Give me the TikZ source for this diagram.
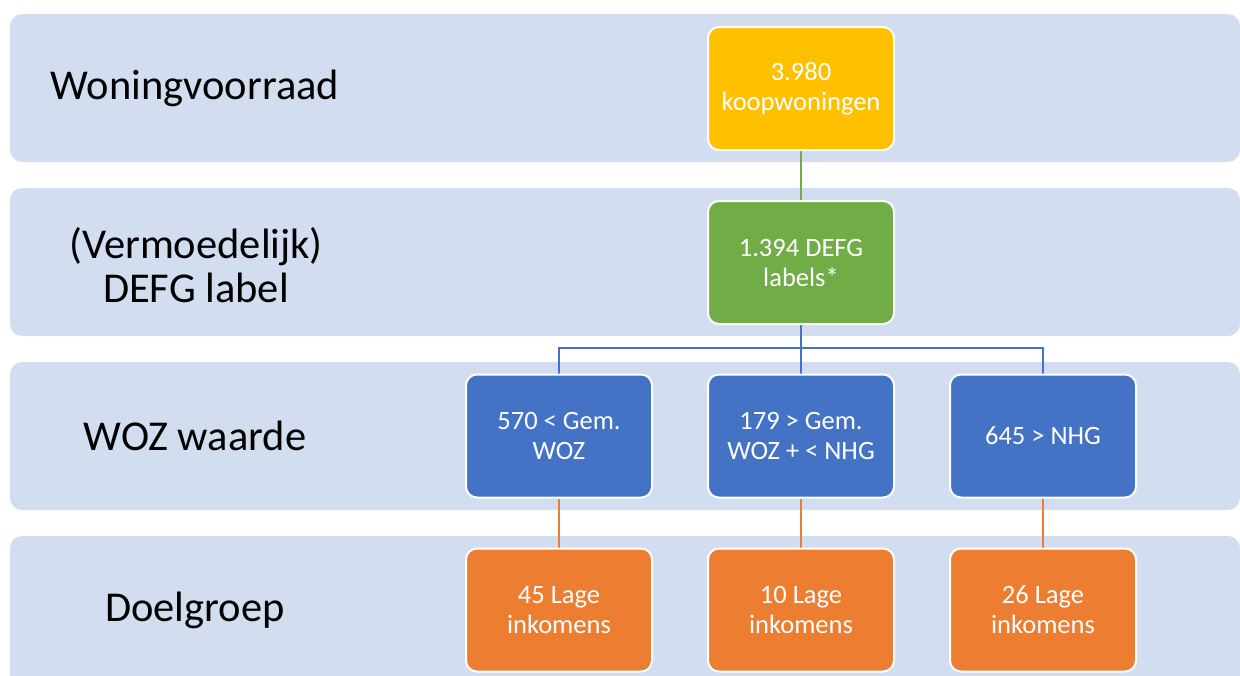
\documentclass[tikz,border=0pt]{standalone}
\usepackage{fontspec}
\setmainfont{Carlito}
\usetikzlibrary{backgrounds}
\definecolor{bandc}{HTML}{D2DEEF}
\definecolor{yelc}{HTML}{FFC000}
\definecolor{grnc}{HTML}{70AD47}
\definecolor{bluc}{HTML}{4472C4}
\definecolor{orac}{HTML}{ED7D31}
\begin{document}
\begin{tikzpicture}[x=1pt,y=-1pt,
  band/.style={fill=bandc, rounded corners=12pt},
  box/.style={draw=white, line width=2pt, rounded corners=11pt, minimum width=186pt, minimum height=123pt, text=white, align=center, font=\fontsize{26.5}{30}\selectfont, inner sep=0pt},
  lbl/.style={align=center, font=\fontsize{42.5}{44}\selectfont, text=black},
  conn/.style={line width=2.6pt}]
\useasboundingbox (0,0) rectangle (1240,675);
\clip (0,0) rectangle (1240,675);
% labels
\node[lbl] (l1) at (195,88) {Woningvoorraad};
\node[lbl] (l2) at (196,265) {(Vermoedelijk)\\DEFG label};
\node[lbl] (l3) at (195,436) {WOZ waarde};
\node[lbl] (l4) at (195,610) {Doelgroep};
% boxes
\node[box, fill=yelc] (top) at (801,88.5) {3.980\\koopwoningen};
\node[box, fill=grnc] (g) at (801,262.5) {1.394 DEFG\\labels*};
\node[box, fill=bluc] (b1) at (559,436) {570 < Gem.\\WOZ};
\node[box, fill=bluc] (b2) at (801,436) {179 > Gem.\\WOZ + < NHG};
\node[box, fill=bluc] (b3) at (1043,436) {645 > NHG};
\node[box, fill=orac] (o1) at (559,610) {45 Lage\\inkomens};
\node[box, fill=orac] (o2) at (801,610) {10 Lage\\inkomens};
\node[box, fill=orac] (o3) at (1043,610) {26 Lage\\inkomens};
\coordinate (j) at (801,348);
\begin{pgfonlayer}{background}
\fill[band] (10,14) rectangle (1240,162);
\fill[band] (10,188) rectangle (1240,336);
\fill[band] (10,362) rectangle (1240,510);
\fill[band] (10,536) rectangle (1240,700);
\draw[conn, grnc] (top.south) -- (g.south);
\draw[conn, bluc] (g.south) -- (b2.north);
\draw[conn, bluc] (b1.north) |- (j);
\draw[conn, bluc] (b3.north) |- (j);
\draw[conn, orac] (b1.south) -- (o1.north);
\draw[conn, orac] (b2.south) -- (o2.north);
\draw[conn, orac] (b3.south) -- (o3.north);
\end{pgfonlayer}
\end{tikzpicture}
\end{document}
